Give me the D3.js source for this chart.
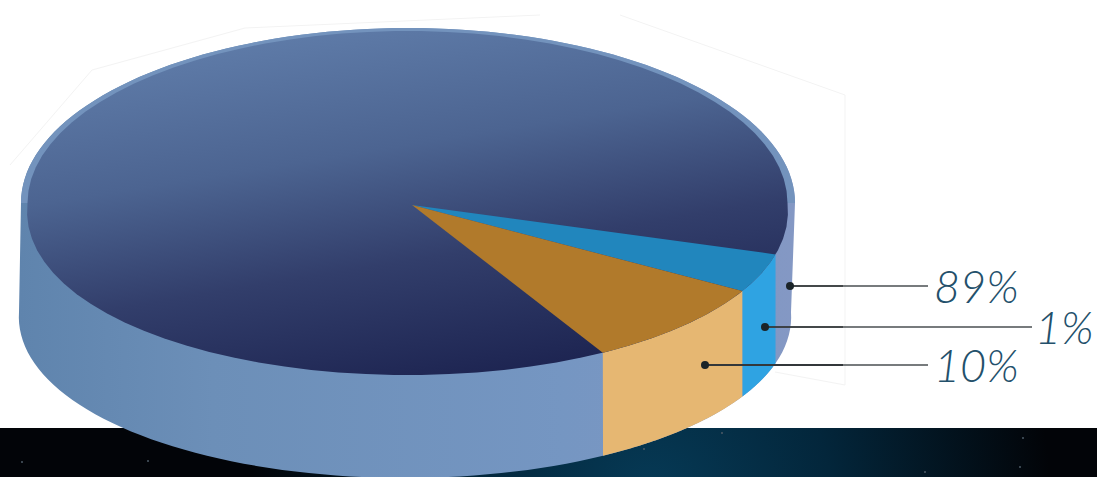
<!DOCTYPE html>
<html>
<head>
<meta charset="utf-8">
<title>pie</title>
<script src="https://cdn.jsdelivr.net/npm/d3@7"></script>
<style>
html, body { margin: 0; padding: 0; background: #fff; overflow: hidden; }
svg { display: block; }
</style>
</head>
<body>
<div id="chart"></div>
<script>
// slice names and printed labels, same order as they run clockwise from the right edge
var categories = ['A', 'B', 'C'];
var labels = ['1%', '10%', '89%'];
// share of the circle each slice is really drawn with (read from the picture, not the printed number)
var drawnShare = [3.72, 8.25, 88.03];

var width = 1097, height = 477;

// ellipses of the disc. k widens the near half a little, the picture has some perspective
var face = {cx: 407.5, cy: 203, rx: 380, ry: 172, k: 0.05};
var rim = {cx: 408, cy: 203, rx: 387, ry: 175, k: 0};
var base = {cx: 405, cy: 312, rx: 386, ry: 166, k: 0.03};
var apex = [412, 205];
var startDeg = 17.4;

var svg = d3.select('#chart').append('svg')
	.attr('width', width)
	.attr('height', height);

var defs = svg.append('defs');

function addLinear(id, x1, y1, x2, y2, stops) {
	var g = defs.append('linearGradient').attr('id', id)
		.attr('x1', x1).attr('y1', y1).attr('x2', x2).attr('y2', y2);
	stops.forEach(function(s) {
		g.append('stop').attr('offset', s[0]).attr('stop-color', s[1]);
	});
}
addLinear('faceGrad', 0.32, 0, 0.68, 1, [[0, '#5f7ca9'], [0.35, '#4c6491'], [0.65, '#323e6b'], [1, '#1c2350']]);
addLinear('sideGrad', 0, 0, 1, 0, [[0, '#5f84ad'], [0.25, '#6c8fb8'], [0.7, '#7596c2'], [1, '#8498c4']]);

var sky = defs.append('radialGradient').attr('id', 'skyGrad')
	.attr('gradientUnits', 'userSpaceOnUse')
	.attr('cx', 650).attr('cy', 495).attr('r', 400);
sky.append('stop').attr('offset', 0).attr('stop-color', '#063a56');
sky.append('stop').attr('offset', 0.45).attr('stop-color', '#03263b');
sky.append('stop').attr('offset', 1).attr('stop-color', '#020408');

// dark strip along the bottom
svg.append('rect')
	.attr('x', 0).attr('y', 428)
	.attr('width', width).attr('height', height - 428)
	.attr('fill', 'url(#skyGrad)');

// a few specks in the strip
var specks = [[22, 462], [148, 461], [644, 449], [722, 433], [1023, 438], [1020, 467], [925, 472]];
svg.selectAll('circle.speck').data(specks).enter().append('circle')
	.attr('class', 'speck')
	.attr('cx', function(d) { return d[0]; })
	.attr('cy', function(d) { return d[1]; })
	.attr('r', 1)
	.attr('fill', '#4c5a66');

// faint leftover outline behind the disc
var line = d3.line();
var ghost = [
	[[10, 165], [92, 70], [245, 28], [540, 15]],
	[[620, 15], [845, 95], [845, 385]],
	[[775, 372], [845, 385]]
];
svg.selectAll('path.ghost').data(ghost).enter().append('path')
	.attr('class', 'ghost')
	.attr('d', line)
	.attr('fill', 'none')
	.attr('stroke', '#f3f3f3')
	.attr('stroke-width', 1);

function pt(e, a) {
	var s = Math.sin(a);
	return [e.cx + e.rx * Math.cos(a) * (1 + e.k * Math.max(s, 0)), e.cy + e.ry * s];
}
function arcPts(e, a0, a1) {
	return d3.range(0, 91).map(function(i) {
		return pt(e, a0 + (a1 - a0) * i / 90);
	});
}
// angle on the base ellipse straight below a point of the face, the wall edges are vertical
function angleBelow(a) {
	var x = pt(face, a)[0];
	return d3.least(d3.range(0, 1800).map(function(i) { return i * Math.PI / 1800; }), function(b) {
		return Math.abs(pt(base, b)[0] - x);
	});
}

// angles come from d3.pie; 0 is the right edge, going clockwise on screen
var pie = d3.pie().sort(null)
	.startAngle(startDeg * Math.PI / 180)
	.endAngle(startDeg * Math.PI / 180 + 2 * Math.PI);
var slices = pie(drawnShare);

var sideColors = ['#2fa3e2', '#e6b772', 'url(#sideGrad)'];
var topColors = ['#2186bd', '#b17a2b', 'url(#faceGrad)'];

// whole side wall
var wall = arcPts(rim, Math.PI, 2 * Math.PI)
	.concat([[base.cx + base.rx, base.cy]])
	.concat(arcPts(base, 0, Math.PI));
svg.append('path')
	.attr('d', line(wall) + 'Z')
	.attr('fill', 'url(#sideGrad)');

// rim, only the back half shows
svg.append('path')
	.attr('d', line(arcPts(rim, Math.PI, 2 * Math.PI)) + 'Z')
	.attr('fill', '#7393bd');

// front of the two small slices
slices.slice(0, 2).forEach(function(d, i) {
	var pts = arcPts(face, d.startAngle, d.endAngle)
		.concat(arcPts(base, angleBelow(d.endAngle), angleBelow(d.startAngle)));
	svg.append('path')
		.attr('d', line(pts) + 'Z')
		.attr('fill', sideColors[i]);
});

// top face
svg.append('path')
	.attr('d', line(arcPts(face, 0, 2 * Math.PI)) + 'Z')
	.attr('fill', 'url(#faceGrad)');

slices.slice(0, 2).forEach(function(d, i) {
	var pts = [apex].concat(arcPts(face, d.startAngle, d.endAngle));
	svg.append('path')
		.attr('class', 'slice ' + categories[i])
		.attr('d', line(pts) + 'Z')
		.attr('fill', topColors[i]);
});

// leaders and labels
var callouts = [
	{dot: [765, 327], end: 1032, tx: 1035, ty: 344},
	{dot: [705, 365], end: 928, tx: 934, ty: 382},
	{dot: [790, 286], end: 928, tx: 934, ty: 303}
];
labels.forEach(function(t, i) {
	var c = callouts[i];
	svg.append('line')
		.attr('x1', c.dot[0]).attr('y1', c.dot[1])
		.attr('x2', c.end).attr('y2', c.dot[1])
		.attr('stroke', '#4a4f52')
		.attr('stroke-width', 1.4);
	svg.append('line')
		.attr('x1', c.dot[0]).attr('y1', c.dot[1])
		.attr('x2', 843).attr('y2', c.dot[1])
		.attr('stroke', '#33373a')
		.attr('stroke-width', i == 1 ? 2 : 1.4);
	svg.append('circle')
		.attr('cx', c.dot[0]).attr('cy', c.dot[1])
		.attr('r', 4)
		.attr('fill', '#1b2428');
	svg.append('text')
		.attr('x', c.tx).attr('y', c.ty)
		.attr('font-family', 'Lato, "Open Sans", sans-serif')
		.attr('font-style', 'italic')
		.attr('font-weight', 300)
		.attr('font-size', 45)
		.attr('fill', '#23506b')
		.text(t);
});
</script>
</body>
</html>
